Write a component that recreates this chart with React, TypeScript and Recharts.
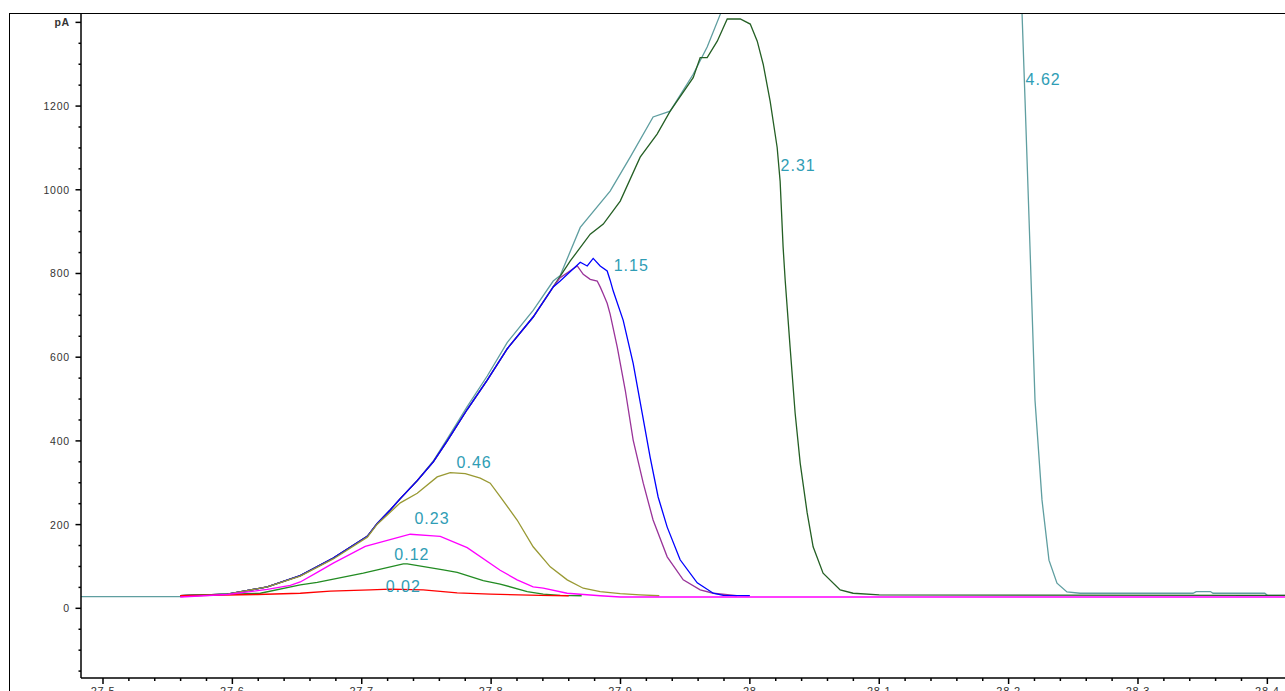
import React from "react";
import { LineChart, Line, XAxis, YAxis, ReferenceDot } from "recharts";

// ---- axis ticks ----
const xMajorTicks = [27.5, 27.6, 27.7, 27.8, 27.9, 28, 28.1, 28.2, 28.3, 28.4];
const xMajorLabels = ["27.5", "27.6", "27.7", "27.8", "27.9", "28", "28.1", "28.2", "28.3", "28.4"];
const xMinorTicks = [
  27.52, 27.54, 27.56, 27.58, 27.62, 27.64, 27.66, 27.68, 27.72, 27.74, 27.76, 27.78,
  27.82, 27.84, 27.86, 27.88, 27.92, 27.94, 27.96, 27.98, 28.02, 28.04, 28.06, 28.08,
  28.12, 28.14, 28.16, 28.18, 28.22, 28.24, 28.26, 28.28, 28.32, 28.34, 28.36, 28.38,
];
const yMajorTicks = [0, 200, 400, 600, 800, 1000, 1200, 1400];
const yMajorLabels = ["0", "200", "400", "600", "800", "1000", "1200", "pA"];
const yMinorTicks = [
  -150, -100, -50, 50, 100, 150, 250, 300, 350, 450, 500, 550, 650, 700, 750, 850, 900, 950,
  1050, 1100, 1150, 1250, 1300, 1350,
];

// ---- peak labels ----
const peakLabelTexts = ["0.02", "0.12", "0.23", "0.46", "1.15", "2.31", "4.62"];
const peakLabelTimes = [27.7321, 27.7388, 27.7543, 27.7869, 27.9083, 28.0373, 28.2267];
const peakLabelValues = [54.5, 129.7, 216.9, 349.5, 821.4, 1059, 1264.5];

// ---- series (time min, signal pA) ----
const frontRise: number[][] = [
  [27.5597, 30], [27.5961, 34], [27.627, 51], [27.6525, 78], [27.678, 120], [27.7043, 172],
  [27.712, 203], [27.722, 235], [27.7298, 262], [27.7429, 305], [27.7553, 350], [27.7661, 400],
  [27.7815, 475], [27.797, 545], [27.8124, 620], [27.8325, 696], [27.848, 768],
];

const s462: number[][] = [
  [27.483, 28], [27.5597, 28], [27.5961, 34], [27.627, 51], [27.6525, 78], [27.678, 120],
  [27.7043, 172], [27.712, 203], [27.722, 235], [27.7298, 262], [27.7429, 305], [27.7553, 352],
  [27.7661, 405], [27.7815, 482], [27.797, 555], [27.8124, 635], [27.8325, 712], [27.848, 782],
  [27.8534, 795], [27.8689, 910], [27.892, 997], [27.9075, 1078], [27.9252, 1174], [27.9384, 1188],
  [27.9562, 1276], [27.967, 1341], [27.9771, 1419], [27.99, 1700], [28.2, 1700], [28.2104, 1420],
  [28.2127, 1214], [28.2166, 856], [28.2204, 497], [28.2258, 259], [28.2312, 115], [28.2374, 60],
  [28.2451, 39], [28.2552, 36], [28.3425, 36], [28.345, 40], [28.356, 40], [28.358, 36],
  [28.398, 36], [28.4, 31], [28.42, 31],
];

const s231: number[][] = [
  ...frontRise,
  [27.8612, 830], [27.8766, 894], [27.8867, 918], [27.8998, 973], [27.9152, 1078], [27.9283, 1133],
  [27.9384, 1188], [27.9562, 1268], [27.9616, 1316], [27.967, 1316], [27.9748, 1355], [27.9825, 1408],
  [27.9926, 1408], [28.0003, 1396], [28.0057, 1355], [28.0103, 1300], [28.0157, 1211], [28.0211, 1101],
  [28.0234, 1020], [28.0257, 863], [28.0273, 784], [28.0311, 624], [28.035, 466], [28.0389, 347],
  [28.0443, 228], [28.0489, 147], [28.0566, 84], [28.0698, 44], [28.0798, 36], [28.1, 32], [28.42, 31],
];

const s115: number[][] = [
  ...frontRise,
  [27.8534, 782], [27.8689, 827], [27.8743, 818], [27.8789, 836], [27.8843, 818], [27.8897, 806],
  [27.892, 784], [27.8944, 758], [27.9021, 688], [27.9098, 585], [27.9168, 466], [27.9229, 361],
  [27.9291, 266], [27.9361, 194], [27.9461, 116], [27.9593, 61], [27.9717, 36], [27.9794, 31], [28.0, 30],
];

const s115b: number[][] = [
  ...frontRise,
  [27.8534, 790], [27.8666, 818], [27.8712, 798], [27.8766, 786], [27.882, 782], [27.8843, 768],
  [27.8867, 751], [27.8897, 729], [27.892, 703], [27.8975, 624], [27.9037, 521], [27.9098, 402],
  [27.9176, 299], [27.9252, 211], [27.9361, 123], [27.9485, 68], [27.9616, 44], [27.9717, 36], [27.99, 30],
];

const s046: number[][] = [
  [27.5597, 30], [27.5961, 34], [27.627, 51], [27.6525, 77], [27.678, 118], [27.7043, 170],
  [27.712, 201], [27.7298, 252], [27.7429, 275], [27.7583, 314], [27.7684, 324], [27.78, 322],
  [27.7916, 311], [27.7993, 299], [27.807, 267], [27.8201, 211], [27.8325, 147], [27.8457, 99],
  [27.8588, 68], [27.8712, 48], [27.8843, 40], [27.8998, 35], [27.9152, 32], [27.93, 30],
];

const s023: number[][] = [
  [27.5597, 27], [27.5961, 33], [27.627, 45], [27.6448, 55], [27.6525, 63], [27.6656, 86],
  [27.678, 108], [27.7027, 148], [27.7375, 177], [27.7553, 173], [27.7607, 172], [27.7815, 145],
  [27.807, 91], [27.8201, 68], [27.8325, 51], [27.8403, 48], [27.8588, 36], [27.8843, 30],
  [27.9, 27], [28.42, 27],
];

const s012: number[][] = [
  [27.5597, 30], [27.6216, 36], [27.6525, 56], [27.6656, 62], [27.7012, 84], [27.7321, 106],
  [27.7352, 106], [27.763, 92], [27.7738, 86], [27.7939, 66], [27.807, 58], [27.8279, 40],
  [27.8403, 34], [27.8534, 31], [27.87, 30],
];

const s002: number[][] = [
  [27.5597, 30], [27.6192, 33], [27.6525, 36], [27.6757, 41], [27.7066, 44], [27.722, 46],
  [27.7475, 44], [27.7738, 37], [27.7993, 34], [27.838, 31], [27.86, 30],
];

const toPts = (arr: number[][]) => arr.map(([t, v]) => ({ t, v }));

const series = [
  { name: "4.62", data: toPts(s462), color: "#5f9ea0" },
  { name: "2.31", data: toPts(s231), color: "#245f24" },
  { name: "1.15b", data: toPts(s115b), color: "#993399" },
  { name: "1.15", data: toPts(s115), color: "#0000ff" },
  { name: "0.46", data: toPts(s046), color: "#999933" },
  { name: "0.12", data: toPts(s012), color: "#228b22" },
  { name: "0.02", data: toPts(s002), color: "#ff0000" },
  { name: "0.23", data: toPts(s023), color: "#ff00ff" },
];

const FONT = "'Liberation Sans', Arial, sans-serif";

const XTick = (props: any) => {
  const { x, y, payload } = props;
  const i = xMajorTicks.findIndex((t) => Math.abs(t - payload.value) < 1e-6);
  const major = i >= 0;
  return (
    <g>
      <line x1={x} x2={x} y1={y} y2={y + (major ? 6 : 3)} stroke="#000" strokeWidth={1.5} />
      {major && (
        <text x={x} y={y + 17} textAnchor="middle" fontSize={11} fill="#333" fontFamily={FONT} letterSpacing={0.8}>
          {xMajorLabels[i]}
        </text>
      )}
    </g>
  );
};

const YTick = (props: any) => {
  const { x, y, payload } = props;
  const i = yMajorTicks.findIndex((t) => Math.abs(t - payload.value) < 1e-6);
  const major = i >= 0;
  return (
    <g>
      <line x1={x - (major ? 5.5 : 2.5)} x2={x} y1={y} y2={y} stroke="#000" strokeWidth={1.5} />
      {major && (
        <text x={x - 11} y={y + 4} textAnchor="end" fontSize={10.5} fill="#333" fontFamily={FONT} letterSpacing={0.8} fontWeight={i === yMajorTicks.length - 1 ? "bold" : "normal"}>
          {yMajorLabels[i]}
        </text>
      )}
    </g>
  );
};

const allXTicks = [...xMajorTicks, ...xMinorTicks].sort((a, b) => a - b);
const allYTicks = [...yMajorTicks, ...yMinorTicks].sort((a, b) => a - b);

export default function App() {
  return (
    <div style={{ position: "fixed", left: 0, top: 0, width: 1285, height: 691, overflow: "hidden", background: "#fff" }}>
      <div
        style={{
          position: "absolute", left: 9, top: 13, width: 1400, height: 800,
          borderLeft: "1.5px solid #000", borderTop: "1.5px solid #000",
        }}
      />
      <div style={{ position: "absolute", left: 0, top: 0 }}>
        <LineChart width={1300} height={710} margin={{ top: 14, right: 10, bottom: 0, left: 0 }}>
          <XAxis
            dataKey="t"
            type="number"
            domain={[27.483, 28.4175]}
            allowDataOverflow
            ticks={allXTicks}
            interval={0}
            tick={XTick}
            tickLine={false}
            tickSize={0}
            tickMargin={0}
            height={32}
            axisLine={{ stroke: "#000", strokeWidth: 1.5 }}
          />
          <YAxis
            type="number"
            domain={[-166.5, 1420]}
            allowDataOverflow
            ticks={allYTicks}
            interval={0}
            tick={YTick}
            tickLine={false}
            tickSize={0}
            tickMargin={0}
            width={81}
            axisLine={{ stroke: "#000", strokeWidth: 1.5 }}
          />
          {series.map((s) => (
            <Line
              key={s.name}
              data={s.data}
              dataKey="v"
              type="linear"
              stroke={s.color}
              strokeWidth={1.3}
              dot={false}
              activeDot={false}
              isAnimationActive={false}
            />
          ))}
          {peakLabelTexts.map((txt, i) => (
            <ReferenceDot
              key={txt}
              x={peakLabelTimes[i]}
              y={peakLabelValues[i]}
              r={0}
              shape={(sp: any) => (
                <text
                  x={sp.cx}
                  y={sp.cy + 6}
                  textAnchor="middle"
                  fontSize={16}
                  letterSpacing={1}
                  fill="#2f9db5"
                  fontFamily={FONT}
                >
                  {txt}
                </text>
              )}
            />
          ))}
        </LineChart>
      </div>
    </div>
  );
}
